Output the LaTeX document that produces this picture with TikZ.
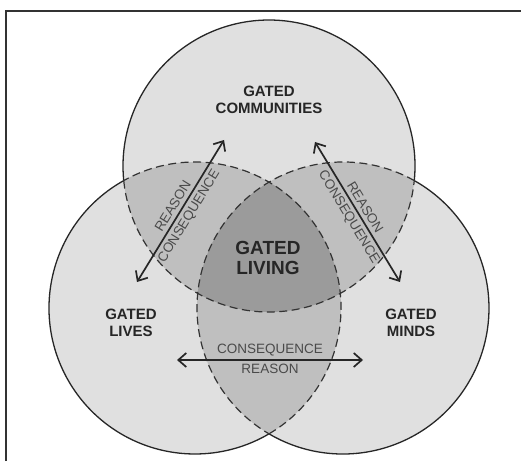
\documentclass[tikz,border=0pt]{standalone}
\usepackage{fontspec}
\setmainfont{Liberation Sans}
\usetikzlibrary{arrows.meta}
\definecolor{ringgray}{HTML}{E0E0E0}
\definecolor{lensgray}{HTML}{BFBFBF}
\definecolor{coregray}{HTML}{9B9B9B}
\definecolor{inkgray}{HTML}{4A4A4A}

\begin{document}
\begin{tikzpicture}[x=1pt,y=1pt,
		ringline/.style={line width=1.3pt, black!85},
		lensline/.style={line width=1.2pt, black!80, dash pattern=on 8pt off 4.5pt},
		setlabel/.style={font=\fontsize{15}{16.5}\selectfont\bfseries, text=black!85, align=center},
		corelabel/.style={font=\fontsize{19}{20.5}\selectfont\bfseries, text=black!85, align=center},
		linklabel/.style={font=\fontsize{13.5}{15}\selectfont, text=inkgray, inner sep=3.5pt},
		twoway/.style={line width=1.7pt, black!85, {Straight Barb[length=8pt,width=14pt]}-{Straight Barb[length=8pt,width=14pt]}}]
		\useasboundingbox (0,0) rectangle (521,461);

		% frame
		\draw[line width=1.2pt, black!80] (6,0) -- (6,450) -- (521,450);

		\coordinate (T) at (269,295);
		\coordinate (L) at (195,153);
		\coordinate (R) at (343,153);

		% fills
		\fill[ringgray] (T) circle (146pt) (L) circle (146pt) (R) circle (146pt);
		\begin{scope}
			\clip (T) circle (146pt);
			\fill[lensgray] (L) circle (146pt) (R) circle (146pt);
		\end{scope}
		\begin{scope}
			\clip (L) circle (146pt);
			\fill[lensgray] (R) circle (146pt);
		\end{scope}
		\begin{scope}
			\clip (T) circle (146pt);
			\clip (L) circle (146pt);
			\fill[coregray] (R) circle (146pt);
		\end{scope}

		% outer arcs
		\draw[ringline] ([shift={(-5.74:146pt)}]T) arc[start angle=-5.74, end angle=185.74, radius=146pt];
		\draw[ringline] ([shift={(119.2:146pt)}]L) arc[start angle=119.2, end angle=300.45, radius=146pt];
		\draw[ringline] ([shift={(239.55:146pt)}]R) arc[start angle=239.55, end angle=420.8, radius=146pt];
		% inner arcs
		\draw[lensline] ([shift={(185.74:146pt)}]T) arc[start angle=185.74, end angle=354.26, radius=146pt];
		\draw[lensline] ([shift={(-59.55:146pt)}]L) arc[start angle=-59.55, end angle=119.2, radius=146pt];
		\draw[lensline] ([shift={(60.8:146pt)}]R) arc[start angle=60.8, end angle=239.55, radius=146pt];

		% labels
		\draw (269,361) node[setlabel] (comm) {GATED\\COMMUNITIES};
		\draw (131,138) node[setlabel] (lives) {GATED\\LIVES};
		\draw (411,138) node[setlabel] (minds) {GATED\\MINDS};
		\draw (268,203) node[corelabel] (living) {GATED\\LIVING};

		% arrows
		\coordinate (livesend) at (137,179);
		\coordinate (commleft) at (224,321);
		\coordinate (commright) at (315,319);
		\coordinate (mindsend) at (400,179);
		\coordinate (livesright) at (177,101);
		\coordinate (mindsleft) at (363,101);

		\path[twoway]
		(livesend) edge node[linklabel, above, sloped] {REASON} node[linklabel, below, sloped] {CONSEQUENCE} (commleft)
		(commright) edge node[linklabel, above, sloped] {REASON} node[linklabel, below, sloped] {CONSEQUENCE} (mindsend)
		(livesright) edge node[linklabel, above] {CONSEQUENCE} node[linklabel, below] {REASON} (mindsleft)
		;
	\end{tikzpicture}
\end{document}
